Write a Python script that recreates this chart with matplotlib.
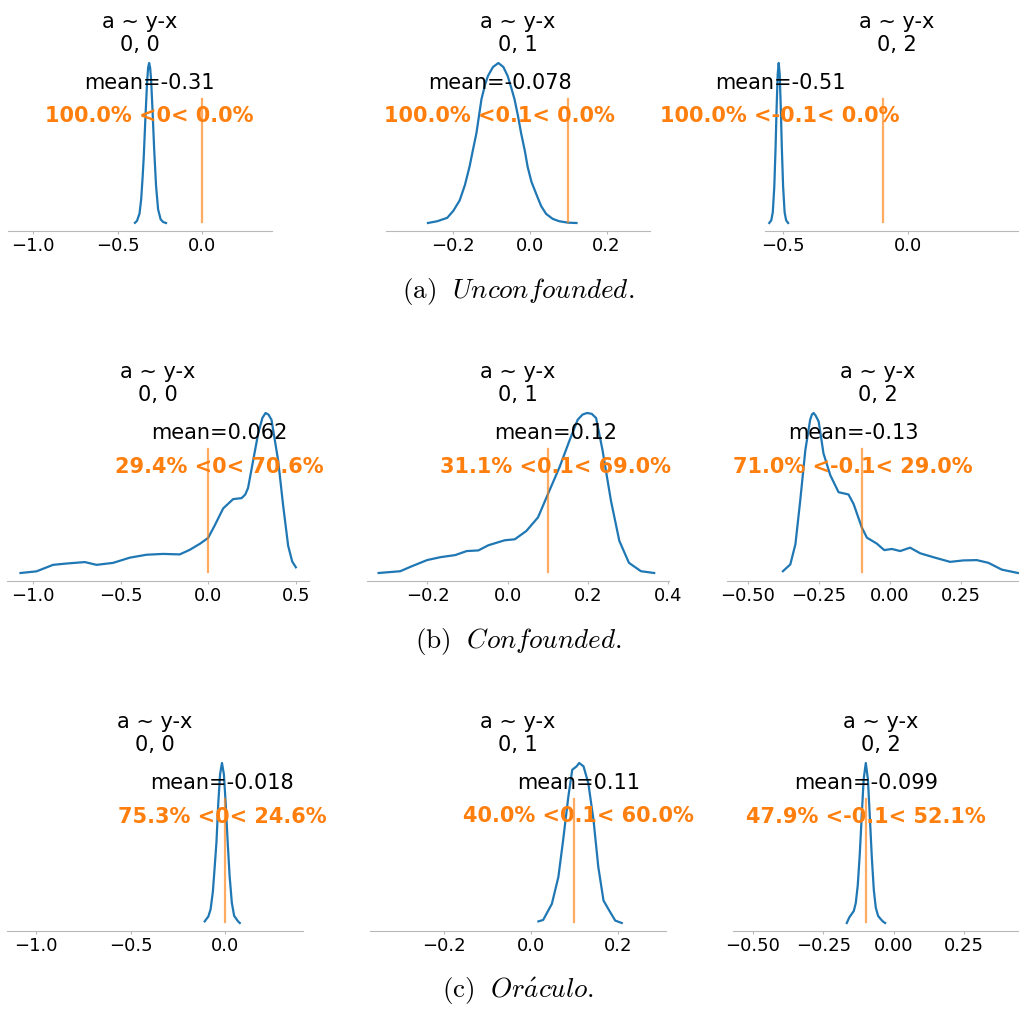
import numpy as np
import matplotlib
matplotlib.use("Agg")
import matplotlib.pyplot as plt

plt.rcParams['mathtext.fontset'] = 'cm'

# Distribuciones a posteriori de a ~ y-x (densidad relativa, pico = 1)
# fila 1 : Unconfounded
x_u0 = [-0.397, -0.385, -0.37, -0.36, -0.352, -0.345, -0.335, -0.325, -0.319, -0.313, -0.307, -0.301, -0.293, -0.283, -0.272, -0.26, -0.245, -0.23, -0.213]
h_u0 = [0.003, 0.015, 0.06, 0.15, 0.28, 0.41, 0.657, 0.882, 0.97, 1.0, 0.97, 0.89, 0.707, 0.458, 0.233, 0.087, 0.025, 0.008, 0.002]
x_u1 = [-0.264, -0.24, -0.214, -0.198, -0.1815, -0.168, -0.156, -0.147, -0.138, -0.125, -0.115, -0.108, -0.095, -0.081, -0.068, -0.057, -0.048, -0.039, -0.03, -0.022, -0.012, -0.005, 0.005, 0.017, 0.03, 0.043, 0.06, 0.077, 0.1, 0.122]
h_u1 = [0.004, 0.015, 0.036, 0.08, 0.145, 0.24, 0.354, 0.46, 0.564, 0.774, 0.87, 0.92, 0.975, 1.0, 0.975, 0.92, 0.85, 0.774, 0.67, 0.564, 0.45, 0.354, 0.26, 0.187, 0.11, 0.061, 0.03, 0.015, 0.006, 0.004]
x_u2 = [-0.553, -0.545, -0.539, -0.533, -0.528, -0.524, -0.5195, -0.5155, -0.5115, -0.507, -0.503, -0.498, -0.492, -0.486, -0.478]
h_u2 = [0.003, 0.02, 0.07, 0.23, 0.47, 0.71, 0.93, 1.0, 0.93, 0.71, 0.47, 0.23, 0.07, 0.02, 0.003]

# fila 2 : Confounded
x_c0 = [-1.071, -0.98, -0.885, -0.809, -0.704, -0.637, -0.543, -0.447, -0.352, -0.257, -0.162, -0.105, -0.047, 0.0, 0.038, 0.086,
        0.143, 0.191, 0.212, 0.228, 0.257, 0.286, 0.31, 0.328, 0.345, 0.362, 0.4, 0.428, 0.457, 0.48, 0.501]
h_c0 = [0.019, 0.029, 0.069, 0.077, 0.086, 0.069, 0.081, 0.113, 0.131, 0.136, 0.133, 0.161, 0.198, 0.234, 0.311, 0.415,
        0.472, 0.478, 0.5, 0.54, 0.708, 0.875, 0.97, 1.0, 0.99, 0.958, 0.708, 0.436, 0.186, 0.09, 0.054]
x_c1 = [-0.322, -0.268, -0.239, -0.201, -0.168, -0.131, -0.102, -0.073, -0.048, -0.007, 0.018, 0.047, 0.076, 0.101, 0.13,
        0.155, 0.175, 0.187, 0.198, 0.21, 0.221, 0.237, 0.258, 0.279, 0.303, 0.333, 0.366]
h_c1 = [0.008, 0.019, 0.05, 0.088, 0.106, 0.119, 0.144, 0.148, 0.18, 0.211, 0.217, 0.269, 0.353, 0.499, 0.666,
        0.832, 0.958, 0.99, 1.0, 0.995, 0.969, 0.77, 0.457, 0.207, 0.071, 0.019, 0.008]
x_c2 = [-0.377, -0.351, -0.333, -0.316, -0.298, -0.281, -0.275, -0.269, -0.262, -0.251, -0.234, -0.21, -0.181, -0.146, -0.128, -0.099,
        -0.081, -0.046, -0.02, 0.007, 0.036, 0.071, 0.107, 0.153, 0.212, 0.259, 0.306, 0.347, 0.394, 0.451]
h_c2 = [0.019, 0.061, 0.186, 0.457, 0.77, 0.958, 0.99, 1.0, 0.985, 0.947, 0.749, 0.614, 0.509, 0.495, 0.436, 0.29,
        0.227, 0.19, 0.15, 0.157, 0.144, 0.165, 0.13, 0.106, 0.077, 0.086, 0.088, 0.071, 0.029, 0.008]

# fila 3 : Oráculo
x_o0 = [-0.109, -0.1, -0.09, -0.078, -0.066, -0.056, -0.047, -0.038, -0.028, -0.018, -0.008, 0.002, 0.012, 0.022, 0.034, 0.046, 0.058, 0.067, 0.076]
h_o0 = [0.015, 0.03, 0.045, 0.09, 0.2, 0.36, 0.51, 0.74, 0.93, 1.0, 0.93, 0.74, 0.51, 0.3, 0.13, 0.05, 0.03, 0.015, 0.005]
x_o1 = [0.017, 0.028, 0.048, 0.063, 0.074, 0.086, 0.095, 0.105, 0.111, 0.121, 0.132, 0.144, 0.155, 0.167, 0.178, 0.194, 0.209]
h_o1 = [0.014, 0.023, 0.123, 0.29, 0.52, 0.791, 0.958, 0.979, 1.0, 0.979, 0.875, 0.645, 0.353, 0.144, 0.092, 0.019, 0.004]
x_o2 = [-0.167, -0.158, -0.15, -0.142, -0.135, -0.128, -0.121, -0.114, -0.107, -0.0995, -0.092, -0.085, -0.078, -0.071,
        -0.064, -0.056, -0.047, -0.039, -0.031]
h_o2 = [0.005, 0.04, 0.06, 0.08, 0.13, 0.24, 0.43, 0.67, 0.9, 1.0, 0.9, 0.66, 0.41, 0.21, 0.1, 0.05, 0.03, 0.015, 0.005]

curves = [[(x_u0, h_u0), (x_u1, h_u1), (x_u2, h_u2)],
          [(x_c0, h_c0), (x_c1, h_c1), (x_c2, h_c2)],
          [(x_o0, h_o0), (x_o1, h_o1), (x_o2, h_o2)]]

means = [[-0.31, -0.078, -0.51],
         [0.062, 0.12, -0.13],
         [-0.018, 0.11, -0.099]]
pct_below = [[100.0, 100.0, 100.0],
             [29.4, 31.1, 71.0],
             [75.3, 40.0, 47.9]]
pct_above = [[0.0, 0.0, 0.0],
             [70.6, 69.0, 29.0],
             [24.6, 60.0, 52.1]]
ref_vals = [0, 0.1, -0.1]
ref_labels = ['0', '0.1', '-0.1']
titles = ['a ~ y-x\n0, 0', 'a ~ y-x\n0, 1', 'a ~ y-x\n0, 2']
captions = [r'$\mathrm{(a)}\ \ \mathit{Unconfounded}.$',
            r'$\mathrm{(b)}\ \ \mathit{Confounded}.$',
            r'$\mathrm{(c)}\ \ \mathit{Or\acute{a}culo}.$']

xlims = [[(-1.148, 0.414), (-0.373, 0.313), (-0.570, 0.48)],
         [(-1.148, 0.576), (-0.351, 0.403), (-0.574, 0.49)],
         [(-1.151, 0.409), (-0.371, 0.311), (-0.571, 0.48)]]
xticks = [[[-1.0, -0.5, 0.0], [-0.2, 0.0, 0.2], [-0.5, 0.0]],
          [[-1.0, -0.5, 0.0, 0.5], [-0.2, 0.0, 0.2, 0.4], [-0.5, -0.25, 0.0, 0.25]],
          [[-1.0, -0.5, 0.0], [-0.2, 0.0, 0.2], [-0.5, -0.25, 0.0, 0.25]]]

# posicion de cada fila en pixeles (izquierda de cada eje, ancho, base)
W, H = 1019, 1010
row_left = [[8, 386, 765], [7, 367, 727], [7, 370, 733]]
row_width = [264, 302, 296]
row_bottom = [231, 581, 931]
ax_h = 176
caption_base = [298, 648, 998]

fig = plt.figure(figsize=(W / 100, H / 100), dpi=100)

for r in range(3):
    for c in range(3):
        ax = fig.add_axes([row_left[r][c] / W, (H - row_bottom[r]) / H,
                           row_width[r] / W, ax_h / H])
        xs, hs = curves[r][c]
        ax.plot(xs, hs, color='C0', lw=1.6)
        ax.set_xlim(*xlims[r][c])
        ax.set_xticks(xticks[r][c])
        ax.set_yticks([])
        for s in ['left', 'right', 'top']:
            ax.spines[s].set_visible(False)
        ax.spines['bottom'].set_color('0.72')
        ax.tick_params(axis='x', labelsize=13, length=2.5, pad=1.5, color='0.72')
        plot_height = ax.get_ylim()[1]
        ax.axvline(ref_vals[c], ymin=0.05, ymax=0.75, lw=1.6, alpha=0.65, color='C1')
        ax.text(means[r][c], plot_height * 0.8, 'mean={:.2g}'.format(means[r][c]),
                fontsize=15, ha='center')
        ax.text(means[r][c], plot_height * 0.6,
                '{:.1f}% <{}< {:.1f}%'.format(pct_below[r][c], ref_labels[c], pct_above[r][c]),
                fontsize=15, weight='semibold', ha='center', color='C1')
        ax.set_title(titles[c], fontsize=15, pad=2)
    fig.text(518 / W, (H - caption_base[r]) / H, captions[r], fontsize=19.5,
             ha='center', va='baseline')

fig.savefig('out.png', dpi=100)
